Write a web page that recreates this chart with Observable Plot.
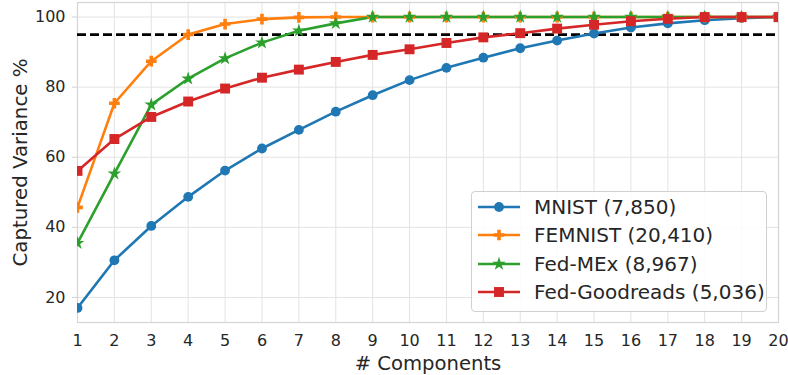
<!DOCTYPE html>
<html>
<head>
<meta charset="utf-8">
<script src="https://cdn.jsdelivr.net/npm/d3@7"></script>
<script src="https://cdn.jsdelivr.net/npm/@observablehq/plot@0.6"></script>
<style>
  html, body { margin: 0; padding: 0; background: #fff; }
  #wrap { position: relative; width: 788px; height: 375px; font-family: "DejaVu Sans", sans-serif; color: #262626; }
  #legend { position: absolute; left: 471px; top: 191px; width: 294px; height: 119px;
    border: 1px solid #d0d0d0; border-radius: 4px; background: rgba(255,255,255,0.85); }
  .row { position: absolute; left: 0; height: 28px; display: flex; align-items: center; }
  .row span { font-size: 20px; margin-left: 7px; white-space: nowrap; }
</style>
</head>
<body>
<div id="wrap"><div id="chart"></div><div id="legend"></div></div>
<script>
const components = d3.range(1, 21);
const seriesNames = ["MNIST (7,850)", "FEMNIST (20,410)", "Fed-MEx (8,967)", "Fed-Goodreads (5,036)"];
const seriesColors = ["#1f77b4", "#ff7f0e", "#2ca02c", "#d62728"];
const seriesSymbols = ["circle", "cross", "star", "square"];
const seriesRadius = [4.9, 4.5, 4.3, 5.6];

const mnist = [17.0, 30.6, 40.4, 48.7, 56.2, 62.5, 67.8, 73.0, 77.7, 82.0, 85.5, 88.4, 91.1, 93.3, 95.3, 97.0, 98.2, 99.1, 99.7, 100];
const femnist = [45.7, 75.4, 87.4, 95.0, 98.0, 99.4, 99.9, 100, 100, 100, 100, 100, 100, 100, 100, 100, 100, 100, 100, 100];
const fedMex = [35.5, 55.3, 75.0, 82.4, 88.2, 92.7, 96.1, 98.2, 100, 100, 100, 100, 100, 100, 100, 100, 100, 100, 100, 100];
const fedGoodreads = [56.1, 65.2, 71.5, 75.9, 79.6, 82.7, 85.0, 87.2, 89.2, 90.8, 92.6, 94.2, 95.4, 96.7, 97.8, 98.8, 99.5, 100, 100, 100];
const threshold = 95;
const yTicks = [20, 40, 60, 80, 100];

const allSeries = [mnist, femnist, fedMex, fedGoodreads];
const rows = allSeries.flatMap((vals, i) => vals.map((v, j) => ({series: seriesNames[i], x: components[j], y: v})));

const yMin = d3.min(rows, d => d.y), yMax = d3.max(rows, d => d.y);
const pad = (yMax - yMin) * 0.05;

const marks = [
  Plot.gridX(components, {stroke: "#e3e3e3", strokeOpacity: 1, strokeWidth: 1}),
  Plot.gridY(yTicks, {stroke: "#e3e3e3", strokeOpacity: 1, strokeWidth: 1}),
  Plot.frame({stroke: "#d4d4d4", strokeWidth: 1.2}),
  Plot.axisX(components, {tickSize: 0, tickPadding: 12, fontSize: 16, label: null, fill: "#262626"}),
  Plot.axisY(yTicks, {tickSize: 5, tickPadding: 7, fontSize: 16, label: null, stroke: "#cfcfcf", fill: "#262626"}),
  Plot.ruleY([threshold], {stroke: "black", strokeWidth: 2.8, strokeDasharray: "9,4"}),
  Plot.text(["# Components"], {frameAnchor: "bottom", lineAnchor: "middle", dy: 41, fontSize: 19.6, fill: "#262626"}),
  Plot.text(["Captured Variance %"], {frameAnchor: "left", textAnchor: "middle", lineAnchor: "middle", dx: -57, rotate: -90, fontSize: 19.8, fill: "#262626"})
];
seriesNames.forEach((name, i) => {
  const data = rows.filter(d => d.series === name);
  marks.push(Plot.line(data, {x: "x", y: "y", stroke: seriesColors[i], strokeWidth: 2.6, clip: true}));
});
seriesNames.forEach((name, i) => {
  const data = rows.filter(d => d.series === name);
  marks.push(Plot.dot(data, {x: "x", y: "y", fill: seriesColors[i], stroke: "none", symbol: seriesSymbols[i], r: seriesRadius[i], clip: true}));
});

const chart = Plot.plot({
  width: 788,
  height: 375,
  marginLeft: 77,
  marginRight: 10,
  marginTop: 2,
  marginBottom: 53,
  style: {fontFamily: "DejaVu Sans", color: "#262626", background: "white", overflow: "visible"},
  x: {domain: [1, 20], axis: null},
  y: {domain: [yMin - pad, yMax + pad], axis: null},
  marks
});
document.getElementById("chart").appendChild(chart);

// Legend
const legend = d3.select("#legend");
const symMap = {circle: d3.symbolCircle, cross: d3.symbolCross, star: d3.symbolStar, square: d3.symbolSquare};
seriesNames.forEach((name, i) => {
  const row = legend.append("div").attr("class", "row").style("top", (1 + i * 28.3) + "px");
  const svg = row.append("svg").attr("width", 50).attr("height", 28).style("margin-left", "5px");
  svg.append("line").attr("x1", 1).attr("x2", 43).attr("y1", 14).attr("y2", 14)
    .attr("stroke", seriesColors[i]).attr("stroke-width", 2.6);
  const r = seriesRadius[i];
  svg.append("path").attr("transform", "translate(22,14)")
    .attr("d", d3.symbol(symMap[seriesSymbols[i]], Math.PI * r * r)())
    .attr("fill", seriesColors[i]);
  row.append("span").text(name);
});
</script>
</body>
</html>
